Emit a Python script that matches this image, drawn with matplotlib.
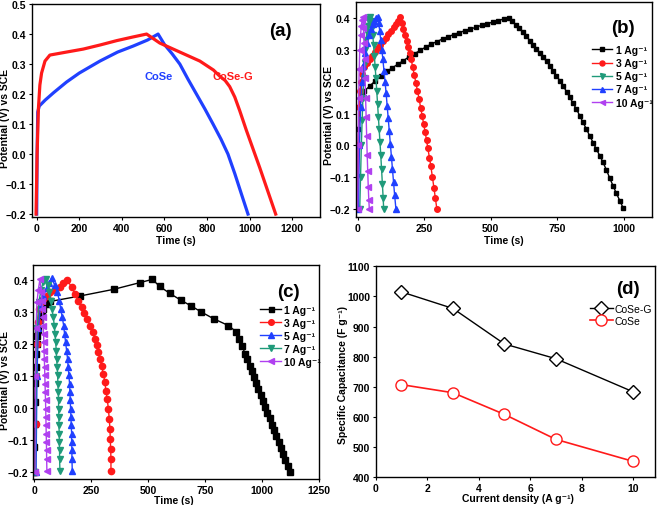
import matplotlib
matplotlib.use('Agg')
import matplotlib.pyplot as plt

plt.rcParams['font.family'] = ['Liberation Sans', 'DejaVu Sans']
plt.rcParams['font.weight'] = 'bold'
plt.rcParams['axes.labelweight'] = 'bold'
plt.rcParams['axes.linewidth'] = 1.0
plt.rcParams['xtick.direction'] = 'out'
plt.rcParams['ytick.direction'] = 'out'
plt.rcParams['xtick.major.size'] = 2.5
plt.rcParams['ytick.major.size'] = 2.5
plt.rcParams['xtick.labelsize'] = 7.5
plt.rcParams['ytick.labelsize'] = 7.5

# ---- (a) GCD at 1 A/g, CoSe vs CoSe-G
a_cose_t = [0, 2, 5, 12, 40, 80, 140, 200, 297, 380, 453, 520, 570, 600, 635, 672, 710, 750, 790, 828, 865, 898, 930, 962, 992]
a_cose_v = [-0.2, 0.0, 0.14, 0.16, 0.18, 0.205, 0.24, 0.27, 0.31, 0.34, 0.36, 0.38, 0.40, 0.365, 0.335, 0.30, 0.25, 0.20, 0.15, 0.10, 0.05, 0.0, -0.065, -0.135, -0.2]
a_coseg_t = [-3, 2, 8, 15, 23, 39, 62, 140, 219, 300, 375, 450, 516, 578, 672, 766, 830, 859, 885, 906, 930, 953, 984, 1047, 1122]
a_coseg_v = [-0.2, 0.0, 0.15, 0.23, 0.27, 0.31, 0.33, 0.34, 0.35, 0.364, 0.378, 0.39, 0.40, 0.37, 0.34, 0.31, 0.28, 0.26, 0.245, 0.225, 0.19, 0.145, 0.08, -0.045, -0.2]

# ---- (b) CoSe at different current densities
b1_t = [0, 3, 8, 15, 25, 46, 67, 88, 109, 130, 151, 172, 193, 214, 235, 256, 277, 298, 319, 340, 361, 382, 403, 424, 445, 466, 487, 508, 529, 550, 569,
        582, 595, 608, 622, 634, 647, 660, 672, 685, 697, 710, 722, 735, 747, 760, 772, 785, 797, 810, 822, 835, 847, 860, 872, 885, 897, 910, 922, 935, 947, 960, 972, 985, 997]
b1_v = [-0.2, 0.05, 0.12, 0.156, 0.17, 0.187, 0.203, 0.219, 0.232, 0.243, 0.255, 0.266, 0.278, 0.288, 0.298, 0.309, 0.318, 0.326, 0.334, 0.341, 0.348, 0.354, 0.36, 0.365, 0.371, 0.377, 0.382, 0.387, 0.392, 0.397, 0.40,
        0.389, 0.378, 0.367, 0.355, 0.343, 0.329, 0.316, 0.303, 0.290, 0.277, 0.264, 0.250, 0.235, 0.219, 0.203, 0.187, 0.169, 0.151, 0.132, 0.114, 0.093, 0.072, 0.051, 0.030, 0.009, -0.012, -0.032, -0.053, -0.077, -0.102, -0.127, -0.150, -0.173, -0.195]
b3_t = [0, 3, 6, 9, 12, 18, 25, 35, 45, 55, 65, 75, 85, 95, 105, 115, 125, 135, 145, 152, 160,
        166, 172, 178, 184, 190, 196, 201, 207, 213, 219, 225, 231, 237, 243, 248, 254, 259, 264, 270, 275, 281, 287, 292, 298]
b3_v = [-0.2, 0.0, 0.12, 0.17, 0.2, 0.225, 0.245, 0.258, 0.27, 0.282, 0.293, 0.305, 0.316, 0.327, 0.338, 0.349, 0.36, 0.371, 0.382, 0.392, 0.403,
        0.384, 0.365, 0.346, 0.327, 0.308, 0.289, 0.271, 0.246, 0.221, 0.196, 0.171, 0.146, 0.118, 0.091, 0.068, 0.041, 0.016, -0.009, -0.039, -0.064, -0.099, -0.134, -0.165, -0.2]
b5_t = [8, 11, 14, 17, 20, 23, 26, 29, 32, 35, 38, 41, 44, 48, 51, 54, 57, 60, 63, 66, 69, 72, 75, 78, 81, 84, 87, 90, 93, 96, 98]
b5_v = [-0.2, -0.1, 0.0, 0.08, 0.15, 0.21, 0.26, 0.3, 0.33, 0.355, 0.375, 0.39, 0.398, 0.402, 0.39, 0.37, 0.345, 0.315, 0.28, 0.245, 0.21, 0.17, 0.13, 0.09, 0.05, 0.01, -0.03, -0.075, -0.12, -0.165, -0.2]
b7_t = [3, 7, 11, 16, 22, 28, 35, 42, 49, 56, 63, 70, 75, 79, 83, 87, 91, 95, 99, 103, 107, 111, 115, 119, 123, 127, 131, 135, 139, 144]
b7_v = [-0.2, 0.0, 0.12, 0.2, 0.25, 0.29, 0.32, 0.345, 0.365, 0.38, 0.392, 0.4, 0.403, 0.385, 0.36, 0.33, 0.3, 0.27, 0.235, 0.2, 0.165, 0.125, 0.085, 0.045, 0.005, -0.035, -0.075, -0.115, -0.155, -0.2]
b10_t = [0, 2, 4, 6, 8, 11, 14, 17, 20, 22, 24, 26, 28, 30, 32, 34, 36, 38, 40, 42, 44]
b10_v = [-0.2, 0.0, 0.15, 0.24, 0.3, 0.345, 0.375, 0.393, 0.402, 0.37, 0.32, 0.27, 0.21, 0.15, 0.09, 0.03, -0.03, -0.08, -0.13, -0.17, -0.2]

# ---- (c) CoSe-G at different current densities
c1_t = [0, 1, 2, 3, 4, 6, 8, 11, 14, 18, 25, 32, 40, 55, 69, 200, 349, 464, 518,
        550, 595, 643, 686, 733, 787, 851, 885, 899, 912, 924, 934, 944, 954, 964, 973, 983, 993, 1003, 1013, 1022, 1032, 1042, 1052, 1062, 1072, 1081, 1091, 1101, 1111, 1121]
c1_v = [-0.2, -0.12, -0.05, 0.02, 0.08, 0.13, 0.17, 0.2, 0.225, 0.245, 0.274, 0.295, 0.31, 0.325, 0.333, 0.35, 0.371, 0.392, 0.402,
        0.38, 0.358, 0.337, 0.32, 0.30, 0.279, 0.258, 0.239, 0.217, 0.194, 0.170, 0.152, 0.133, 0.115, 0.096, 0.078, 0.060, 0.041, 0.023, 0.004, -0.014, -0.032, -0.051, -0.069, -0.088, -0.106, -0.124, -0.143, -0.161, -0.180, -0.198]
c3_t = [5, 7, 9, 12, 16, 22, 30, 40, 55, 69, 90, 113, 127, 145,
        164, 178.5, 193, 208, 219, 232, 244, 256, 266, 273.5, 281, 288, 295, 303, 310, 314, 320, 325, 329, 332, 333.5, 335, 336.4, 336.4]
c3_v = [-0.2, -0.05, 0.1, 0.2, 0.27, 0.31, 0.33, 0.34, 0.35, 0.362, 0.37, 0.378, 0.392, 0.399,
        0.378, 0.357, 0.336, 0.316, 0.298, 0.279, 0.258, 0.237, 0.217, 0.196, 0.175, 0.154, 0.133, 0.107, 0.081, 0.055, 0.029, -0.002, -0.033, -0.065, -0.096, -0.127, -0.158, -0.195]
c5_t = [8, 12, 18, 28, 40, 55, 65, 76,
        91, 101, 110, 116, 123, 129, 133, 137.5, 142, 146, 149, 152, 155, 156.5, 158, 159.5, 161, 162.4, 164, 164, 165.3, 165.3, 166.8]
c5_v = [-0.2, 0.1, 0.25, 0.32, 0.35, 0.375, 0.39, 0.405,
        0.383, 0.362, 0.336, 0.310, 0.284, 0.258, 0.232, 0.206, 0.180, 0.154, 0.128, 0.102, 0.076, 0.050, 0.024, -0.002, -0.028, -0.054, -0.080, -0.106, -0.132, -0.158, -0.195]
c7_t = [5, 8, 12, 20, 30, 40, 51, 61.5,
        66, 72, 77.6, 83.4, 88, 91, 94, 96.6, 98, 101, 102.5, 104, 105.4, 106.8, 106.8, 108.3, 108.3, 109.8, 109.8, 111.2, 111.2, 112.7]
c7_v = [-0.2, 0.1, 0.25, 0.33, 0.37, 0.395, 0.402, 0.383,
        0.362, 0.336, 0.310, 0.284, 0.258, 0.232, 0.206, 0.180, 0.154, 0.128, 0.102, 0.076, 0.050, 0.024, -0.002, -0.028, -0.054, -0.080, -0.106, -0.132, -0.158, -0.195]
c10_t = [3, 5, 8, 12, 18, 25, 31, 34, 36, 38, 39.5, 41, 42, 43, 44.5, 45.5, 46.5, 47.5, 48.5, 49.5, 50.5, 51, 52, 52.5, 53.5, 54, 54.5, 55.5]
c10_v = [-0.2, 0.1, 0.25, 0.33, 0.37, 0.402, 0.362, 0.336, 0.31, 0.284, 0.258, 0.232, 0.206, 0.18, 0.154, 0.128, 0.102, 0.076, 0.05, 0.024, -0.002, -0.028, -0.054, -0.08, -0.106, -0.132, -0.158, -0.195]

# ---- (d) specific capacitance
d_current = [1, 3, 5, 7, 10]
d_coseg = [1015, 960, 842, 793, 683]
d_cose = [707, 680, 608, 525, 452]

rate_labels = ['1 Ag⁻¹', '3 Ag⁻¹', '5 Ag⁻¹', '7 Ag⁻¹', '10 Ag⁻¹']
BLUE = '#2040ff'
RED = '#ff1a1a'
GREEN = '#1f9a7a'
PURPLE = '#b040f0'
LBL = 7.5

fig = plt.figure(figsize=(6.61, 5.06), dpi=100)
ax_a = fig.add_axes([0.0484, 0.569, 0.4357, 0.421])
ax_b = fig.add_axes([0.5386, 0.569, 0.4473, 0.425])
ax_c = fig.add_axes([0.0504, 0.0514, 0.4327, 0.423])
ax_d = fig.add_axes([0.5684, 0.0553, 0.4226, 0.4164])

for ax in (ax_a, ax_b, ax_c, ax_d):
    ax.tick_params(top=False, right=False, pad=1.5)

# (a)
ax_a.plot(a_cose_t, a_cose_v, color=BLUE, lw=2.3)
ax_a.plot(a_coseg_t, a_coseg_v, color=RED, lw=2.3)
ax_a.set_xlim(-22, 1330)
ax_a.set_ylim(-0.21, 0.5)
ax_a.set_xticks(range(0, 1201, 200))
ax_a.set_yticks([-0.2, -0.1, 0.0, 0.1, 0.2, 0.3, 0.4, 0.5])
ax_a.set_xlabel('Time (s)', fontsize=LBL)
ax_a.set_ylabel('Potential (V) vs SCE', fontsize=LBL)
ax_a.xaxis.set_label_coords(0.5, -0.082)
ax_a.yaxis.set_label_coords(-0.076, 0.47)
ax_a.text(0.441, 0.662, 'CoSe', color=BLUE, fontsize=8, fontweight='bold', transform=ax_a.transAxes, ha='center', va='center')
ax_a.text(0.698, 0.662, 'CoSe-G', color=RED, fontsize=8, fontweight='bold', transform=ax_a.transAxes, ha='center', va='center')
ax_a.text(0.861, 0.878, '(a)', fontsize=13.5, fontweight='bold', transform=ax_a.transAxes, ha='center', va='center')

# (b)
ax_b.plot(b1_t, b1_v, color='black', marker='s', ms=3.2, lw=1, label=rate_labels[0])
ax_b.plot(b3_t, b3_v, color=RED, marker='o', ms=4, lw=1, label=rate_labels[1])
ax_b.plot(b5_t, b5_v, color=GREEN, marker='v', ms=4, lw=1, label=rate_labels[2])
ax_b.plot(b7_t, b7_v, color=BLUE, marker='^', ms=4, lw=1, label=rate_labels[3])
ax_b.plot(b10_t, b10_v, color=PURPLE, marker='<', ms=4, lw=1, label=rate_labels[4])
ax_b.set_xlim(-6, 1105)
ax_b.set_ylim(-0.225, 0.45)
ax_b.set_xticks(range(0, 1001, 250))
ax_b.set_yticks([-0.2, -0.1, 0.0, 0.1, 0.2, 0.3, 0.4])
ax_b.set_xlabel('Time (s)', fontsize=LBL)
ax_b.set_ylabel('Potential (V) vs SCE', fontsize=LBL)
ax_b.xaxis.set_label_coords(0.5, -0.082)
ax_b.yaxis.set_label_coords(-0.074, 0.479)
ax_b.legend(loc='upper left', bbox_to_anchor=(0.797, 0.80), frameon=False, fontsize=LBL,
            borderaxespad=0, borderpad=0, handlelength=2.0, handletextpad=0.3, labelspacing=0.3,
            markerscale=0.9)
ax_b.text(0.904, 0.882, '(b)', fontsize=13.5, fontweight='bold', transform=ax_b.transAxes, ha='center', va='center')

# (c)
ax_c.plot(c1_t, c1_v, color='black', marker='s', ms=4, lw=1, label=rate_labels[0])
ax_c.plot(c3_t, c3_v, color=RED, marker='o', ms=4.5, lw=1, label=rate_labels[1])
ax_c.plot(c5_t, c5_v, color=BLUE, marker='^', ms=4.5, lw=1, label=rate_labels[2])
ax_c.plot(c7_t, c7_v, color=GREEN, marker='v', ms=4.5, lw=1, label=rate_labels[3])
ax_c.plot(c10_t, c10_v, color=PURPLE, marker='<', ms=4.5, lw=1, label=rate_labels[4])
ax_c.set_xlim(-4, 1250)
ax_c.set_ylim(-0.221, 0.447)
ax_c.set_xticks(range(0, 1251, 250))
ax_c.set_yticks([-0.2, -0.1, 0.0, 0.1, 0.2, 0.3, 0.4])
ax_c.set_xlabel('Time (s)', fontsize=LBL)
ax_c.set_ylabel('Potential (V) vs SCE', fontsize=LBL)
ax_c.xaxis.set_label_coords(0.492, -0.076)
ax_c.yaxis.set_label_coords(-0.081, 0.465)
ax_c.legend(loc='upper left', bbox_to_anchor=(0.793, 0.815), frameon=False, fontsize=LBL,
            borderaxespad=0, borderpad=0, handlelength=2.0, handletextpad=0.3, labelspacing=0.3,
            markerscale=0.9)
ax_c.text(0.892, 0.877, '(c)', fontsize=13.5, fontweight='bold', transform=ax_c.transAxes, ha='center', va='center')

# (d)
ax_d.plot(d_current, d_coseg, color='black', lw=1, marker='D', ms=7, mfc='white', mec='black', mew=1, label='CoSe-G')
ax_d.plot(d_current, d_cose, color=RED, lw=1.2, marker='o', ms=8, mfc='white', mec=RED, mew=1, label='CoSe')
ax_d.set_xlim(0, 10.85)
ax_d.set_ylim(400, 1100)
ax_d.set_xticks(range(0, 11, 2))
ax_d.set_yticks(range(400, 1101, 100))
ax_d.set_xlabel('Current density (A g⁻¹)', fontsize=LBL)
ax_d.set_ylabel('Specific Capacitance (F g⁻¹)', fontsize=LBL)
ax_d.xaxis.set_label_coords(0.508, -0.074)
ax_d.yaxis.set_label_coords(-0.099, 0.491)
ax_d.legend(loc='upper left', bbox_to_anchor=(0.767, 0.821), frameon=False,
            prop={'size': LBL, 'weight': 'normal'},
            borderaxespad=0, borderpad=0, handlelength=2.2, handletextpad=0.2, labelspacing=0.2)
ax_d.text(0.904, 0.894, '(d)', fontsize=13.5, fontweight='bold', transform=ax_d.transAxes, ha='center', va='center')

fig.savefig('out.png', dpi=100)
